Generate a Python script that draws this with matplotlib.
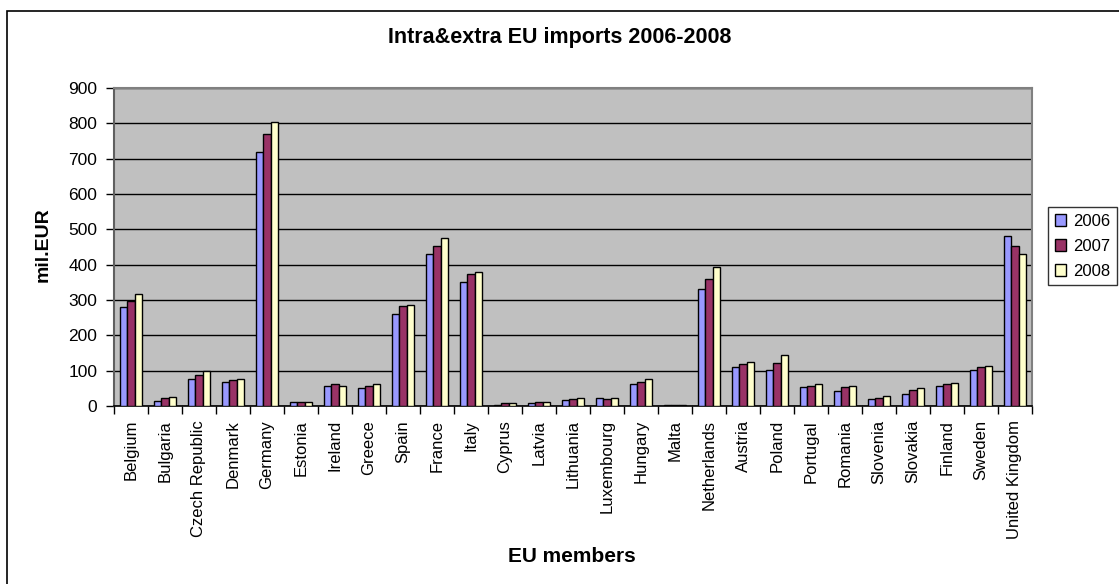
import numpy as np
import matplotlib
matplotlib.use("Agg")
from matplotlib import pyplot as plt
from matplotlib.patches import Rectangle

plt.rcParams['font.family'] = ['Liberation Sans', 'DejaVu Sans']

countries = ["Belgium", "Bulgaria", "Czech Republic", "Denmark", "Germany", "Estonia",
             "Ireland", "Greece", "Spain", "France", "Italy", "Cyprus", "Latvia",
             "Lithuania", "Luxembourg", "Hungary", "Malta", "Netherlands", "Austria",
             "Poland", "Portugal", "Romania", "Slovenia", "Slovakia", "Finland",
             "Sweden", "United Kingdom"]
years = ["2006", "2007", "2008"]
v2006 = [280, 15, 76, 69, 720, 12, 58, 50, 261, 431, 352, 4, 8, 16, 24, 61, 3,
         331, 110, 102, 53, 43, 19, 35, 58, 102, 480]
v2007 = [298, 24, 88, 73, 770, 12, 61, 58, 283, 453, 375, 8, 12, 20, 20, 69, 3,
         359, 118, 122, 58, 53, 24, 46, 61, 110, 453]
v2008 = [316, 26, 98, 76, 804, 12, 58, 61, 287, 476, 379, 8, 12, 24, 24, 77, 3,
         393, 125, 145, 61, 58, 27, 50, 65, 114, 431]
colors = ["#9999FF", "#993366", "#FFFFCC"]

W, H = 1119, 584
fig = plt.figure(figsize=(W / 100, H / 100), dpi=100)

# outer chart frame (right and bottom edges fall outside the image)
fig.patches.append(Rectangle((7 / W, -0.05), 1.2, 1 - 11 / H + 0.05,
                             transform=fig.transFigure, fill=False,
                             edgecolor="black", linewidth=1.2))

ax = fig.add_axes([114 / W, 1 - 406 / H, (1032 - 114) / W, (406 - 88) / H])
ax.set_facecolor("#C0C0C0")

x = np.arange(len(countries))
w = 0.222
for k, vals in enumerate([v2006, v2007, v2008]):
    ax.bar(x + (k - 1) * w, vals, width=w, color=colors[k], edgecolor="black",
           linewidth=1.0, label=years[k], zorder=3)

ax.set_xlim(-0.5, len(countries) - 0.5)
ax.set_ylim(0, 900)
ax.set_yticks(range(0, 901, 100))
ax.yaxis.grid(True, color="black", linewidth=1.0, zorder=1)
ax.tick_params(axis="y", labelsize=12.5, length=6, width=1, direction="out", pad=6)

ax.set_xticks(x)
ax.set_xticklabels(countries, rotation=90, fontsize=12)
ax.set_xticks(np.arange(-0.5, len(countries)), minor=True)
ax.tick_params(axis="x", which="major", length=0, pad=10)
ax.tick_params(axis="x", which="minor", length=6, width=1, direction="out")

for side in ["top", "right"]:
    ax.spines[side].set_color("#808080")
    ax.spines[side].set_linewidth(1.5)
ax.spines["left"].set_color("#606060")
ax.spines["left"].set_linewidth(1.5)
ax.spines["bottom"].set_color("black")
ax.spines["bottom"].set_linewidth(1.2)

fig.text(560 / W, 1 - 37 / H, "Intra&extra EU imports 2006-2008", ha="center",
         va="center", fontsize=15.5, fontweight="bold")
fig.text(43 / W, 1 - 245 / H, "mil.EUR", ha="center", va="center",
         rotation=90, fontsize=14, fontweight="bold")
fig.text(572 / W, 1 - 557 / H, "EU members", ha="center", va="center",
         fontsize=15, fontweight="bold")

leg = ax.legend(loc="upper left", bbox_to_anchor=(1048 / W, 1 - 207 / H),
                bbox_transform=fig.transFigure, fontsize=12, frameon=True,
                fancybox=False, edgecolor="black", handlelength=0.7,
                handleheight=0.7, handletextpad=0.4, labelspacing=0.6,
                borderpad=0.4, borderaxespad=0)
leg.get_frame().set_linewidth(1.0)

fig.savefig("out.png", dpi=100)
